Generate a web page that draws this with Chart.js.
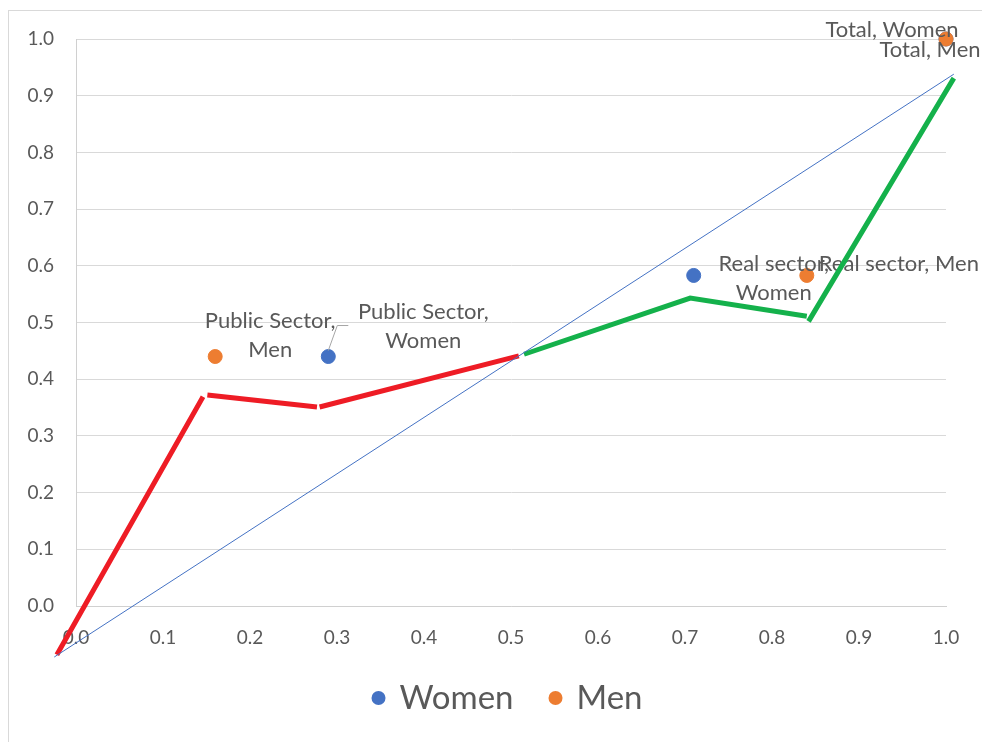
<!DOCTYPE html>
<html>
<head>
<meta charset="utf-8">
<script src="https://cdn.jsdelivr.net/npm/chart.js@4"></script>
<style>
  html, body { margin: 0; padding: 0; background: #fff; overflow: hidden; }
  #frame { position: absolute; left: 8px; top: 10px; width: 1100px; height: 900px; border: 1px solid #d9d9d9; }
  #chart { position: absolute; left: 0; top: 0; }
</style>
</head>
<body>
<div id="frame"></div>
<canvas id="chart" width="982" height="742"></canvas>
<script>
// scatter points
const womenX = [0.29, 0.71, 1.0];
const womenY = [0.44, 0.583, 1.0];
const womenLabels = ["Public Sector,\nWomen", "Real sector,\nWomen", "Total, Women"];

const menX = [0.16, 0.84, 1.0];
const menY = [0.44, 0.583, 1.0];
const menLabels = ["Public Sector,\nMen", "Real sector, Men", "Total, Men"];

// drawn lines (null = break between segments)
const redX = [-0.022, 0.146, null, 0.151, 0.277, null, 0.280, 0.509];
const redY = [-0.086, 0.369, null, 0.372, 0.351, null, 0.351, 0.441];

const greenX = [0.515, 0.706, 0.840, null, 0.842, 1.009];
const greenY = [0.444, 0.543, 0.511, null, 0.502, 0.931];

const diagX = [-0.025, 1.009];
const diagY = [-0.09, 0.938];

const tickValues = [0, 0.1, 0.2, 0.3, 0.4, 0.5, 0.6, 0.7, 0.8, 0.9, 1.0];

const FONT = "Lato, 'Open Sans', sans-serif";
const TEXT = "#595959";

function toPoints(xs, ys) {
  return xs.map((x, i) => ({ x: x, y: ys[i] }));
}

function lineDataset(label, xs, ys, color, width) {
  return {
    label,
    type: "scatter",
    data: toPoints(xs, ys),
    showLine: true,
    borderColor: color,
    backgroundColor: color,
    borderWidth: width,
    borderCapStyle: "butt",
    borderJoinStyle: "miter",
    pointRadius: 0,
    pointHoverRadius: 0,
    spanGaps: false,
    clip: false,
    order: 0,
    isShape: true
  };
}

const labelPos = {
  Women: [
    { dx: 95, dy: -45, align: "center" },
    { dx: 80, dy: -12, align: "center" },
    { dx: -54, dy: -9, align: "center" }
  ],
  Men: [
    { dx: 55, dy: -36, align: "center" },
    { dx: 12, dy: -12, align: "left" },
    { dx: -16, dy: 11, align: "center" }
  ]
};

const dataLabelPlugin = {
  id: "dataLabels",
  afterDatasetDraw(chart, args) {
    if (chart.data.datasets[args.index].label !== "Men") return;
    const ctx = chart.ctx;
    ctx.save();
    ctx.font = "22px " + FONT;
    ctx.fillStyle = TEXT;
    ctx.textBaseline = "middle";
    chart.data.datasets.forEach((ds, i) => {
      if (!ds.pointLabels) return;
      const meta = chart.getDatasetMeta(i);
      meta.data.forEach((pt, j) => {
        const pos = labelPos[ds.label][j];
        const lines = ds.pointLabels[j].split("\n");
        ctx.textAlign = pos.align;
        lines.forEach((line, k) => {
          ctx.fillText(line, pt.x + pos.dx, pt.y + pos.dy + k * 29);
        });
      });
    });
    // leader line for Public Sector, Women
    const p = chart.getDatasetMeta(0).data[0];
    ctx.strokeStyle = "#a6a6a6";
    ctx.lineWidth = 1;
    ctx.beginPath();
    ctx.moveTo(p.x, p.y - 6);
    ctx.lineTo(p.x + 9, p.y - 31);
    ctx.lineTo(p.x + 20, p.y - 31);
    ctx.stroke();
    ctx.restore();
  }
};

const legendPlugin = {
  id: "bottomLegend",
  afterDraw(chart) {
    const ctx = chart.ctx;
    const items = chart.data.datasets.filter(ds => ds.pointLabels);
    ctx.save();
    ctx.font = "33px " + FONT;
    ctx.textBaseline = "middle";
    ctx.textAlign = "left";
    const dotGap = 21, itemGap = 42;
    let total = 0;
    items.forEach((ds, i) => {
      total += 7 + dotGap + ctx.measureText(ds.label).width + (i ? itemGap - 7 : 0);
    });
    let x = 507 - total / 2;
    const y = 698;
    items.forEach((ds, i) => {
      if (i) x += itemGap - 7;
      ctx.fillStyle = ds.backgroundColor;
      ctx.beginPath();
      ctx.arc(x + 7, y, 7, 0, Math.PI * 2);
      ctx.fill();
      ctx.fillStyle = TEXT;
      ctx.fillText(ds.label, x + 7 + dotGap, y);
      x += 7 + dotGap + ctx.measureText(ds.label).width;
    });
    ctx.restore();
  }
};

new Chart(document.getElementById("chart").getContext("2d"), {
  type: "scatter",
  data: {
    datasets: [
      {
        label: "Women",
        data: toPoints(womenX, womenY),
        pointLabels: womenLabels,
        backgroundColor: "#4472c4",
        borderColor: "#4472c4",
        pointRadius: 7,
        pointHoverRadius: 7,
        clip: false,
        order: 2
      },
      {
        label: "Men",
        data: toPoints(menX, menY),
        pointLabels: menLabels,
        backgroundColor: "#ed7d31",
        borderColor: "#ed7d31",
        pointRadius: 7,
        pointHoverRadius: 7,
        clip: false,
        order: 1
      },
      lineDataset("diag", diagX, diagY, "#4472c4", 1),
      lineDataset("red", redX, redY, "#ee1c25", 5),
      lineDataset("green", greenX, greenY, "#14b14b", 5)
    ]
  },
  options: {
    responsive: false,
    animation: false,
    events: [],
    layout: { padding: { left: 0, top: 39, right: 36, bottom: 0 } },
    plugins: {
      legend: { display: false },
      tooltip: { enabled: false }
    },
    scales: {
      x: {
        type: "linear",
        min: 0,
        max: 1,
        afterFit: (scale) => { scale.height = 742 - 39 - 606 + 39 - 0; scale.height = 136; },
        afterBuildTicks: (scale) => { scale.ticks = tickValues.map(v => ({ value: v })); },
        grid: { display: false, drawTicks: false },
        border: { display: true, color: "#d0d0d0", width: 1 },
        ticks: {
          padding: 20,
          color: TEXT,
          font: { family: FONT, size: 19 },
          callback: (v) => Number(v).toFixed(1)
        }
      },
      y: {
        type: "linear",
        min: 0,
        max: 1,
        afterFit: (scale) => { scale.width = 76; },
        afterBuildTicks: (scale) => { scale.ticks = tickValues.map(v => ({ value: v })); },
        grid: { color: "#d9d9d9", lineWidth: 1, drawTicks: false },
        border: { display: true, color: "#d0d0d0", width: 1 },
        ticks: {
          padding: 22,
          color: TEXT,
          font: { family: FONT, size: 19 },
          callback: (v) => Number(v).toFixed(1)
        }
      }
    }
  },
  plugins: [dataLabelPlugin, legendPlugin]
});
</script>
</body>
</html>
